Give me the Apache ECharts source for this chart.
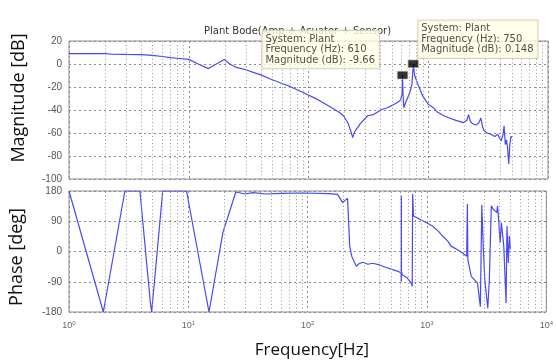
<!DOCTYPE html>
<html><head><meta charset="utf-8">
<script src="https://cdn.jsdelivr.net/npm/echarts@6/dist/echarts.min.js"></script>
<style>html,body{margin:0;padding:0;background:#fff;}#c{width:556px;height:364px;}</style>
</head><body><div id="c"></div>
<script>
// ---- data ----
const magFreq = [1,1.5,2,2.3,3,4,5,6,7,8,10,12,14.6,17,19.8,22,25,30,35,40,48,60,70,91,120,150,180,196,215,225,234,240,250,270,312,350,400,455,500,560,590,605,610,615,625,650,700,730,750,770,815,900,1000,1100,1200,1350,1500,1700,1970,2100,2170,2250,2350,2500,2650,2750,2850,2930,3100,3330,3600,3800,4050,4200,4300,4400,4500,4600,4700,4800,4900,5000];
const magDb = [9,9,9,8.5,8.3,8.2,7.5,6.5,5.5,5,4,0,-4,0,4,0,-3,-5,-7.5,-9.5,-13,-17,-19.5,-25,-31,-37,-42,-45,-52,-58,-64,-60,-57,-52,-45,-44,-40,-38,-36,-33,-31,-25,-9.66,-25,-38,-33,-25,-18,0.148,-10,-17,-28,-35,-38,-42,-45,-47,-49,-51,-49,-44,-50,-52,-53,-51,-47,-55,-58,-60,-61,-63,-61,-67,-62,-54,-70,-66,-73,-87,-70,-63,-64];
const phaseFreq = [1,1.94,2.94,3.93,4.8,4.93,6.1,9.66,14.9,19.5,25,29.7,34.8,45,60,91,150,178,196,216,225,234,245,256,270,290,320,350,400,450,515,580,607,609,610,611,620,680,740,752,758,770,870,1000,1110,1250,1350,1500,1590,1800,1970,2150,2180,2200,2350,2650,2800,2880,2960,3050,3230,3330,3460,3580,3700,3850,3900,4000,4100,4200,4400,4600,4680,4800,4900,5000];
const phaseDeg = [180,-180,180,180,-150,-180,180,180,-180,57,177,171,175,171,173,174,172,170,146,158,16,-14,-30,-44,-36,-32,-38,-35,-40,-47,-54,-60,-64,-90,166,-60,-69,-78,-95,-104,171,106,96,85,76,60,46,30,16,5,-4,-14,141,-24,-74,-94,-164,138,16,-84,-169,-84,136,126,130,116,136,86,26,86,16,-154,76,-34,46,6];
const markerFreq = [610, 750];
const markerDb = [-9.66, 0.148];
const minorFreq = [2,3,4,5,6,7,8,9,20,30,40,50,60,70,80,90,200,300,400,500,600,700,800,900,2000,3000,4000,5000,6000,7000,8000,9000];
const magTicks = {min:-100, max:20, interval:20};
const phaseTicks = {min:-180, max:180, interval:90};
const title = 'Plant Bode(Amp + Acuator + Sensor)';

// ---- chart ----
const chart = echarts.init(document.getElementById('c'), null, {renderer:'canvas'});
const lineColor = '#4848f8';
const gridLine = {show:true, lineStyle:{color:'#8a8a8a', type:[2,3], width:1}};
function xAxisFor(idx, showLabels){
  return {
    type:'log', logBase:10, min:1, max:10000, gridIndex:idx,
    axisLine:{show:false}, axisTick:{show:false},
    splitLine:gridLine,
    axisLabel:{show:showLabels, margin:8, color:'#666',
      formatter:v=>'{b|10}{s|'+Math.round(Math.log10(v))+'}',
      rich:{b:{fontSize:9,color:'#666',fontFamily:'Liberation Sans'},s:{fontSize:6,color:'#666',verticalAlign:'top',padding:[0,0,6,0],fontFamily:'Liberation Sans'}}}
  };
}
function yAxisFor(idx, t){
  return {
    type:'value', gridIndex:idx, min:t.min, max:t.max, interval:t.interval,
    axisLine:{show:false}, axisTick:{show:false},
    splitLine:gridLine,
    axisLabel:{color:'#555', fontSize:10, margin:7, fontFamily:'Liberation Sans'}
  };
}
function minorLines(idx){
  return {
    type:'line', xAxisIndex:idx, yAxisIndex:idx, data:[], silent:true,
    markLine:{silent:true, symbol:'none', animation:false, label:{show:false},
      lineStyle:{color:'#9a9a9a', type:[1,2.5], width:1},
      data:minorFreq.map(f=>({xAxis:f}))}
  };
}
function tipLabel(f, m, pos){
  return {show:true, position:pos,
    formatter:'System: Plant\nFrequency (Hz): '+f+'\nMagnitude (dB): '+m,
    backgroundColor:'#ffffe6', borderColor:'#c9c9b0', borderWidth:1,
    padding:[3,4,3,3], fontSize:10, lineHeight:10.5, color:'#222',
    fontFamily:'DejaVu Sans', align:'left', verticalAlign:'top'};
}
const tipPos = [[-134,-40],[11,-39]];

chart.setOption({
  animation:false,
  backgroundColor:'#fff',
  title:{text:title, left:204, top:26, z:0, padding:0,
    textStyle:{fontSize:10, fontWeight:'normal', color:'#333', fontFamily:'DejaVu Sans'}},
  grid:[
    {left:69, right:8, top:41, height:138, show:true, borderColor:'#8c8c8c', borderWidth:1, backgroundColor:'#fff'},
    {left:69, right:8, top:191, height:121, show:true, borderColor:'#8c8c8c', borderWidth:1, backgroundColor:'#fff'}
  ],
  xAxis:[xAxisFor(0,false), xAxisFor(1,true)],
  yAxis:[yAxisFor(0,magTicks), yAxisFor(1,phaseTicks)],
  graphic:[
    {type:'text', x:19, y:98, rotation:Math.PI/2, style:{text:'Magnitude [dB]', font:'18px "Open Sans"', fill:'#111', textAlign:'center', textVerticalAlign:'middle'}},
    {type:'text', x:17, y:257, rotation:Math.PI/2, style:{text:'Phase [deg]', font:'18px "Open Sans"', fill:'#111', textAlign:'center', textVerticalAlign:'middle'}},
    {type:'text', x:312, y:350, style:{text:'Frequency[Hz]', font:'17px "Open Sans"', fill:'#111', textAlign:'center', textVerticalAlign:'middle'}}
  ],
  series:[
    minorLines(0), minorLines(1),
    {type:'line', xAxisIndex:0, yAxisIndex:0, showSymbol:false, silent:true,
      lineStyle:{color:lineColor, width:1.2}, data:magFreq.map((f,i)=>[f,magDb[i]])},
    {type:'line', xAxisIndex:1, yAxisIndex:1, showSymbol:false, silent:true,
      lineStyle:{color:lineColor, width:1.2}, data:phaseFreq.map((f,i)=>[f,phaseDeg[i]])},
    {type:'scatter', xAxisIndex:0, yAxisIndex:0, symbol:'rect', symbolSize:[11,8], z:10,
      itemStyle:{color:'#000', borderColor:'#eeeed0', borderWidth:1},
      data:markerFreq.map((f,i)=>({value:[f,markerDb[i]], label:tipLabel(f, markerDb[i], tipPos[i])}))}
  ]
});
</script></body></html>
